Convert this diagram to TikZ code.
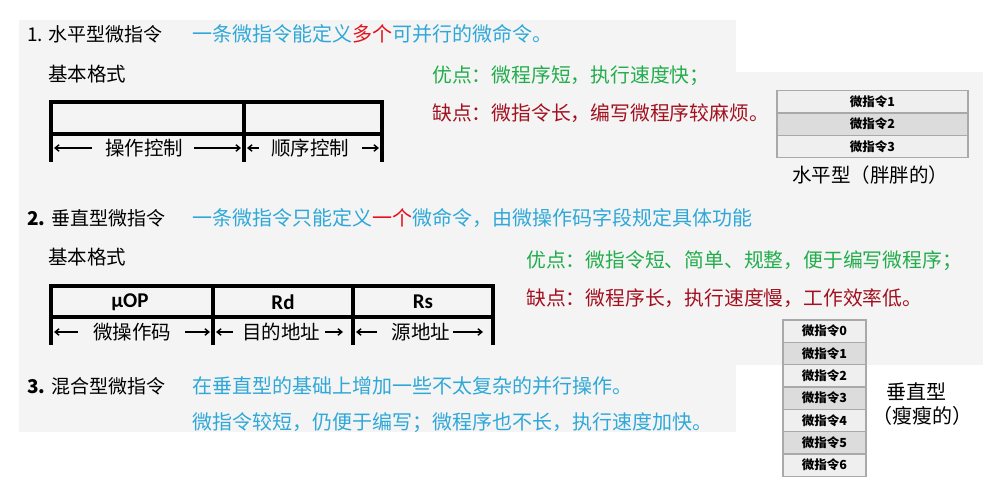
\documentclass[tikz,border=0pt]{standalone}
\usepackage{fontspec}
\setmainfont{Noto Sans CJK SC}
\newfontfamily\carl{Carlito}
\usetikzlibrary{arrows.meta}
\definecolor{bgc}{HTML}{F4F4F4}
\definecolor{cblue}{HTML}{2FA8D8}
\definecolor{cred}{HTML}{E3121C}
\definecolor{cgreen}{HTML}{22AD4C}
\definecolor{cdred}{HTML}{A2111F}
\definecolor{rowa}{HTML}{EFEFEF}
\definecolor{rowb}{HTML}{DCDCDC}
\definecolor{rowline}{HTML}{A9A9A9}
\tikzset{
  heading/.style={anchor=west, inner sep=0pt, font=\fontsize{19}{22}\selectfont},
  bluetxt/.style={anchor=west, inner sep=0pt, text=cblue, font=\fontsize{20}{22}\selectfont},
  goodtxt/.style={anchor=west, inner sep=0pt, text=cgreen, font=\fontsize{19.8}{22}\selectfont},
  badtxt/.style={anchor=west, inner sep=0pt, text=cdred, font=\fontsize{19.8}{22}\selectfont},
  plaintxt/.style={inner sep=0pt, font=\fontsize{19.5}{22}\selectfont},
  fieldtxt/.style={inner sep=0pt, font=\carl\bfseries\fontsize{21}{24}\selectfont},
  fmt/.style={line width=3.1pt, line cap=rect},
  dimarr/.style={line width=1.4pt, -{Straight Barb[length=4pt,width=6.5pt]}},
  cell/.style={draw=rowline, line width=1.3pt, minimum height=22.3pt, inner sep=0pt, outer sep=0pt,
     font=\bfseries\fontsize{12.5}{14}\selectfont},
}
\begin{document}
\begin{tikzpicture}[x=1pt,y=-1pt]
\useasboundingbox (0,0) rectangle (995,494);
\fill[white] (0,0) rectangle (995,494);
% light background panels
\fill[bgc] (19,20) rectangle (736,432);
\fill[bgc] (736,72) rectangle (983,365);

% ---------- Section 1 ----------
\node[heading] (t1) at (27,34) {1. 水平型微指令};
\node[bluetxt] (d1) at (192,34) {一条微指令能定义\textcolor{cred}{多个}可并行的微命令。};
\node[plaintxt, anchor=west] (b1) at (48,74) {基本格式};
\node[goodtxt] (g1) at (432,76) {优点：微程序短，执行速度快；};
\node[badtxt] (r1) at (432,113) {缺点：微指令长，编写微程序较麻烦。};

% format box 1
\draw[fmt] (51,102) rectangle (382,134);
\draw[fmt] (244,102) -- (244,160);
\draw[fmt] (51,134) -- (51,160);
\draw[fmt] (382,134) -- (382,160);
\node[plaintxt] (op1) at (144,148) {操作控制};
\node[plaintxt] (sq1) at (310,148) {顺序控制};
\draw[dimarr] (92,148) -- (54,148);
\draw[dimarr] (194,148) -- (241,148);
\draw[dimarr] (259,148) -- (247,148);
\draw[dimarr] (362,148) -- (379,148);

% horizontal stack
\node[cell, fill=rowa, minimum width=191pt] (h1) at (872.5,101.9) {微指令1};
\node[cell, fill=rowb, minimum width=191pt] (h2) at (872.5,124.2) {微指令2};
\node[cell, fill=rowa, minimum width=191pt] (h3) at (872.5,146.5) {微指令3};
\node[plaintxt] (hc) at (870,175) {水平型（胖胖的）};

% ---------- Section 2 ----------
\node[heading] (t2) at (27,218) {\textbf{2.} 垂直型微指令};
\node[bluetxt] (d2) at (192,218) {一条微指令只能定义\textcolor{cred}{一个}微命令，由微操作码字段规定具体功能};
\node[plaintxt, anchor=west] (b2) at (48,257) {基本格式};
\node[goodtxt] (g2) at (526,261) {优点：微指令短、简单、规整，便于编写微程序；};
\node[badtxt] (r2) at (526,298) {缺点：微程序长，执行速度慢，工作效率低。};

% format box 2
\draw[fmt] (51,286) rectangle (493,317);
\draw[fmt] (213,286) -- (213,343);
\draw[fmt] (353,286) -- (353,343);
\draw[fmt] (51,317) -- (51,343);
\draw[fmt] (493,317) -- (493,343);
\node[fieldtxt] (uop) at (130,302) {µOP};
\node[fieldtxt] (rd) at (283,302) {Rd};
\node[fieldtxt] (rs) at (423,302) {Rs};
\node[plaintxt] (l1) at (132,332) {微操作码};
\node[plaintxt] (l2) at (281,332) {目的地址};
\node[plaintxt] (l3) at (421,332) {源地址};
\draw[dimarr] (78,332) -- (54,332);
\draw[dimarr] (185,332) -- (210,332);
\draw[dimarr] (233,332) -- (216,332);
\draw[dimarr] (325,332) -- (343,332);
\draw[dimarr] (377,332) -- (356,332);
\draw[dimarr] (453,332) -- (483,332);

% vertical stack
\node[cell, fill=rowa, minimum width=83pt] (v0) at (824.5,331.2) {微指令0};
\node[cell, fill=rowb, minimum width=83pt] (v1) at (824.5,353.5) {微指令1};
\node[cell, fill=rowa, minimum width=83pt] (v2) at (824.5,375.8) {微指令2};
\node[cell, fill=rowb, minimum width=83pt] (v3) at (824.5,398.1) {微指令3};
\node[cell, fill=rowa, minimum width=83pt] (v4) at (824.5,420.4) {微指令4};
\node[cell, fill=rowb, minimum width=83pt] (v5) at (824.5,442.7) {微指令5};
\node[cell, fill=rowa, minimum width=83pt] (v6) at (824.5,465.0) {微指令6};
\node[plaintxt, font=\fontsize{20}{22}\selectfont] (vc1) at (916,392) {垂直型};
\node[plaintxt, font=\fontsize{20}{22}\selectfont] (vc2) at (922,416) {（瘦瘦的）};

% ---------- Section 3 ----------
\node[heading] (t3) at (27,386) {\textbf{3.} 混合型微指令};
\node[bluetxt] (d3a) at (192,386) {在垂直型的基础上增加一些不太复杂的并行操作。};
\node[bluetxt] (d3b) at (192,423) {微指令较短，仍便于编写；微程序也不长，执行速度加快。};
\end{tikzpicture}
\end{document}
